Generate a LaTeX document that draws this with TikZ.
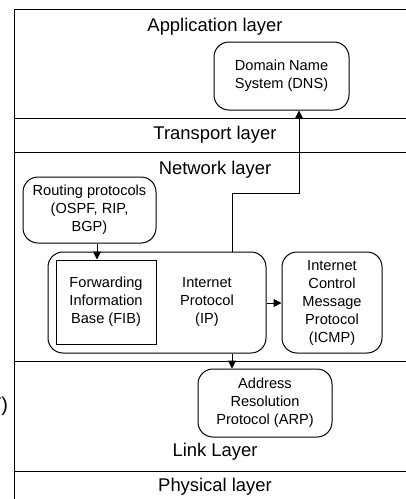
\documentclass[tikz,border=0pt]{standalone}
\usepackage{fontspec}
\setmainfont{Liberation Sans}
\usetikzlibrary{arrows.meta}
\begin{document}
\begin{tikzpicture}[x=1pt,y=1pt,
  line width=1pt,
  big/.style={font=\fontsize{18.4}{22}\selectfont, inner sep=0pt},
  small/.style={font=\fontsize{14.6}{18}\selectfont, align=center, inner sep=0pt},
  rbox/.style={draw, rounded corners=15pt, minimum width=#1, inner sep=0pt, align=center,
     font=\fontsize{14.6}{18}\selectfont},
  arr/.style={-{Triangle[length=8pt,width=8pt]}}
]
\useasboundingbox (0,0) rectangle (406,-499);
\clip (0,0) rectangle (406,-499);
% layer frame
\draw (14,-499) -- (14,-9) -- (420,-9);
\draw (14,-118) -- (420,-118);
\draw (14,-152) -- (420,-152);
\draw (14,-361) -- (420,-361);
\draw (14,-471) -- (420,-471);
% layer labels
\node[big] (app) at (215,-27) {Application layer};
\node[big] (trans) at (215,-135) {Transport layer};
\node[big] (net) at (215,-170) {Network layer};
\node[big] (link) at (215,-452) {Link Layer};
\node[big] (phys) at (215,-487) {Physical layer};
\node[font=\fontsize{20}{24}\selectfont, inner sep=0pt, anchor=east] (cut) at (8.5,-406) {T)};
% boxes
\node[rbox=135pt, minimum height=68pt] (dns) at (281.5,-76) {Domain Name\\System (DNS)};
\node[rbox=133pt, minimum height=66pt] (rout) at (89.5,-210) {Routing protocols\\(OSPF, RIP,\\BGP)};
\node[draw, rounded corners=15pt, minimum width=218pt, minimum height=101pt, inner sep=0pt] (ip) at (157,-302.5) {};
\node[draw, minimum width=100pt, minimum height=84pt, inner sep=0pt] (fib) at (106,-302) {};
\node[small] (fibt) at (106,-302) {Forwarding\\Information\\Base (FIB)};
\node[small] (ipt) at (207,-302) {Internet\\Protocol\\(IP)};
\node[rbox=100pt, minimum height=101pt] (icmp) at (332,-302.5) {Internet\\Control\\Message\\Protocol\\(ICMP)};
\node[rbox=134pt, minimum height=68pt] (arp) at (265,-403) {Address\\Resolution\\Protocol (ARP)};
% connectors
\coordinate (xa) at (232,0);
\coordinate (xb) at (299,-193);
\coordinate (xr) at (97,0);
\coordinate (yi) at (0,-303);
\draw[arr] (ip.north -| xa) |- (xb) -- (dns.south -| xb);
\draw[arr] (rout.south -| xr) -- (fib.north -| xr);
\draw[arr] (ip.east |- yi) -- (icmp.west |- yi);
\draw[arr] (ip.south -| xa) -- (arp.north -| xa);
\end{tikzpicture}
\end{document}
